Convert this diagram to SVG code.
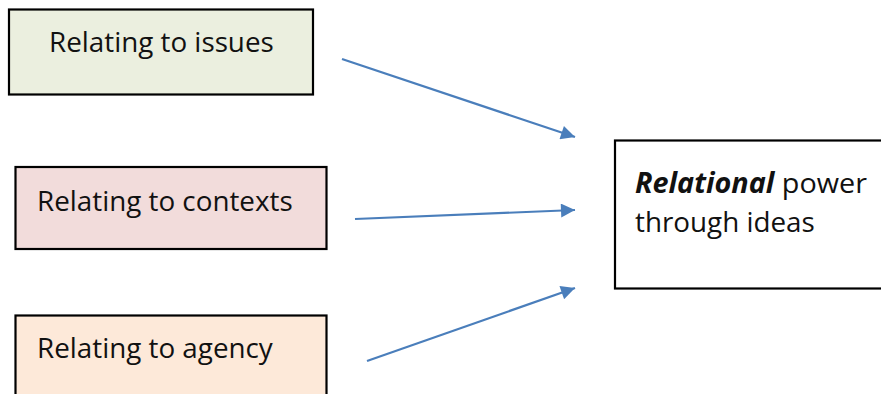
<svg xmlns="http://www.w3.org/2000/svg" width="881" height="394" viewBox="0 0 881 394">
  <style>
    .box { stroke: #000; stroke-width: 2.2; }
    .label { font-family: "Open Sans", "Noto Sans", sans-serif; font-size: 27.8px; fill: #111; }
    .conn { stroke: #4a7ebb; stroke-width: 2.2; fill: none; marker-end: url(#head); }
  </style>
  <defs>
    <marker id="head" viewBox="0 0 10 10" refX="10" refY="5" markerUnits="userSpaceOnUse" markerWidth="17" markerHeight="14" orient="auto">
      <path d="M0,0 L10,5 L0,10 Z" fill="#4a7ebb"/>
    </marker>
  </defs>
  <rect width="881" height="394" fill="#fff"/>

  <g id="issues">
    <rect class="box" x="9" y="9.5" width="304" height="85" fill="#ebefdf"/>
    <text class="label" x="49" y="52">Relating to issues</text>
  </g>

  <g id="contexts">
    <rect class="box" x="15.5" y="167" width="311" height="82" fill="#f2dcdb"/>
    <text class="label" x="37" y="211">Relating to contexts</text>
  </g>

  <g id="agency">
    <rect class="box" x="15.5" y="315.5" width="311" height="90" fill="#fde9d9"/>
    <text class="label" x="37" y="358">Relating to agency</text>
  </g>

  <g id="relational-power">
    <rect class="box" x="615" y="140.5" width="280" height="148" fill="#fff"/>
    <text class="label" x="635" y="193" textLength="232" lengthAdjust="spacingAndGlyphs"><tspan font-weight="bold" font-style="italic">Relational</tspan> power</text>
    <text class="label" x="635" y="232">through ideas</text>
  </g>

  <g id="connectors">
    <line class="conn" x1="342" y1="59" x2="575" y2="137"/>
    <line class="conn" x1="355" y1="219" x2="575" y2="210"/>
    <line class="conn" x1="367" y1="361" x2="575" y2="288"/>
  </g>
</svg>
